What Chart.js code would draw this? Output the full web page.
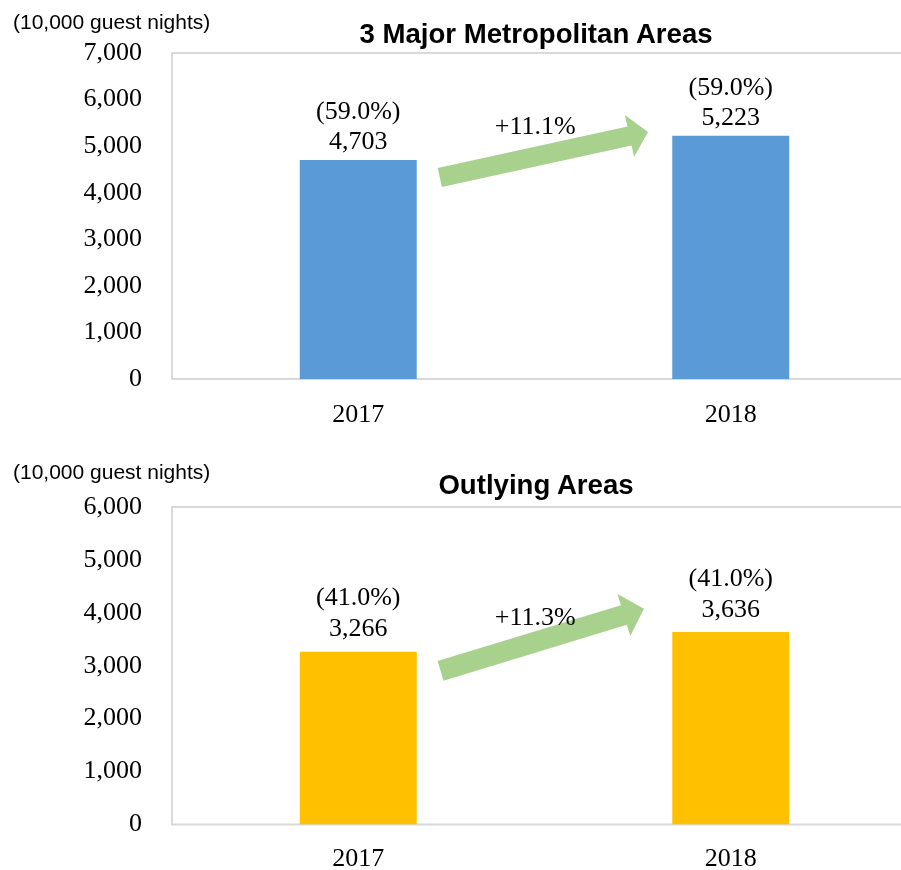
<!DOCTYPE html>
<html><head><meta charset="utf-8">
<script src="https://cdn.jsdelivr.net/npm/chart.js@4"></script>
<style>
html,body{margin:0;padding:0;background:#fff;width:901px;height:870px;overflow:hidden;position:relative;}
.wrap{position:absolute;left:0;width:901px;overflow:hidden;}
.unit{position:absolute;left:13px;font-family:'Liberation Sans',Arial,sans-serif;font-size:21px;color:#000;white-space:nowrap;line-height:1;}
.title{position:absolute;left:536px;font-family:'Liberation Sans',Arial,sans-serif;font-weight:bold;font-size:27.6px;color:#000;white-space:nowrap;line-height:1;transform:translateX(-50%);}
canvas{display:block;}
</style></head><body>
<div class="wrap" style="top:0;height:440px;"><canvas id="c1" width="918" height="440"></canvas></div>
<div class="wrap" style="top:440px;height:430px;"><canvas id="c2" width="918" height="430"></canvas></div>
<div class="unit" style="top:11px;">(10,000 guest nights)</div>
<div class="title" style="top:20px;">3 Major Metropolitan Areas</div>
<div class="unit" style="top:461px;">(10,000 guest nights)</div>
<div class="title" style="top:471px;">Outlying Areas</div>
<script>
const categories = ['2017', '2018'];
const metroValues = [4703, 5223];
const metroShares = ['(59.0%)', '(59.0%)'];
const metroGrowth = '+11.1%';
const metroMax = 7000;
const outlyingValues = [3266, 3636];
const outlyingShares = ['(41.0%)', '(41.0%)'];
const outlyingGrowth = '+11.3%';
const outlyingMax = 6000;
const tickStep = 1000;

const SERIF = "'Liberation Serif','Times New Roman',serif";

const decor = {
  id: 'decor',
  beforeDatasetsDraw(chart) {
    const {ctx, chartArea: a} = chart;
    ctx.save();
    ctx.strokeStyle = '#D9D9D9';
    ctx.lineWidth = 2;
    ctx.beginPath();
    ctx.moveTo(a.left, a.top); ctx.lineTo(a.right + 5, a.top);
    ctx.moveTo(a.left, a.top - 1); ctx.lineTo(a.left, a.bottom + 1);
    ctx.moveTo(a.left, a.bottom); ctx.lineTo(a.right + 5, a.bottom);
    ctx.stroke();
    ctx.restore();
  },
  afterDatasetsDraw(chart, args, o) {
    const {ctx} = chart;
    const xs = chart.scales.x, ys = chart.scales.y;
    const p0 = xs.getPixelForValue(0), p1 = xs.getPixelForValue(1);
    const fx = f => p0 + f * (p1 - p0);
    const ar = o.arrow;
    const tx = fx(ar.x0), ty = ys.getPixelForValue(ar.y0);
    const hx = fx(ar.x1), hy = ys.getPixelForValue(ar.y1);
    const L = Math.hypot(hx - tx, hy - ty);
    const ux = (hx - tx) / L, uy = (hy - ty) / L;
    const nx = -uy, ny = ux;
    const sw = ar.shaft / 2, hw = ar.head / 2, hl = ar.headLen;
    const bx = hx - ux * hl, by = hy - uy * hl;
    ctx.save();
    ctx.fillStyle = '#A9D18E';
    ctx.beginPath();
    ctx.moveTo(tx + nx * sw, ty + ny * sw);
    ctx.lineTo(bx + nx * sw, by + ny * sw);
    ctx.lineTo(bx + nx * hw, by + ny * hw);
    ctx.lineTo(hx, hy);
    ctx.lineTo(bx - nx * hw, by - ny * hw);
    ctx.lineTo(bx - nx * sw, by - ny * sw);
    ctx.lineTo(tx - nx * sw, ty - ny * sw);
    ctx.closePath();
    ctx.fill();

    ctx.fillStyle = '#000';
    ctx.font = '26px ' + SERIF;
    ctx.textAlign = 'center';
    ctx.textBaseline = 'middle';
    ctx.fillText(o.growth, fx(o.growthPos.x), ys.getPixelForValue(o.growthPos.y));

    const meta = chart.getDatasetMeta(0);
    const vals = chart.data.datasets[0].data;
    meta.data.forEach((bar, i) => {
      ctx.fillText(vals[i].toLocaleString('en-US'), bar.x, bar.y - o.valueOffset);
      ctx.fillText(o.shares[i], bar.x, bar.y - o.shareOffset);
    });
    ctx.restore();
  }
};

function makeChart(id, values, color, max, opts, xPad, xHeight, topPad) {
  return new Chart(document.getElementById(id), {
    type: 'bar',
    data: {
      labels: categories,
      datasets: [{
        data: values,
        backgroundColor: color,
        borderWidth: 0,
        barPercentage: 0.314,
        categoryPercentage: 1
      }]
    },
    options: {
      responsive: false,
      animation: false,
      devicePixelRatio: 1,
      layout: {padding: {top: topPad, left: 0, right: 1, bottom: 0}},
      plugins: {
        legend: {display: false},
        tooltip: {enabled: false},
        title: {display: false},
        decor: opts
      },
      scales: {
        x: {
          grid: {display: false, drawTicks: false},
          border: {display: false},
          ticks: {
            color: '#000',
            padding: xPad,
            maxRotation: 0,
            font: {family: SERIF, size: 26, lineHeight: 1.2}
          },
          afterFit(s) { s.height = xHeight; }
        },
        y: {
          min: 0,
          max: max,
          grid: {display: false, drawTicks: false},
          border: {display: false},
          ticks: {
            stepSize: tickStep,
            color: '#000',
            padding: 30,
            font: {family: SERIF, size: 26, lineHeight: 1.2},
            callback: v => v.toLocaleString('en-US')
          },
          afterFit(s) { s.width = 172; }
        }
      }
    },
    plugins: [decor]
  });
}

makeChart('c1', metroValues, '#5B9BD5', metroMax, {
  shares: metroShares,
  growth: metroGrowth,
  growthPos: {x: 0.475, y: 5400},
  valueOffset: 18,
  shareOffset: 48,
  arrow: {x0: 0.219, y0: 4327, x1: 0.778, y1: 5304, shaft: 19.5, head: 43, headLen: 19}
}, 21, 61, 53);

makeChart('c2', outlyingValues, '#FFC000', outlyingMax, {
  shares: outlyingShares,
  growth: outlyingGrowth,
  growthPos: {x: 0.475, y: 3890},
  valueOffset: 22,
  shareOffset: 53,
  arrow: {x0: 0.221, y0: 2903, x1: 0.767, y1: 4075, shaft: 20.5, head: 44, headLen: 21}
}, 19, 42, 67);
</script>
</body></html>
